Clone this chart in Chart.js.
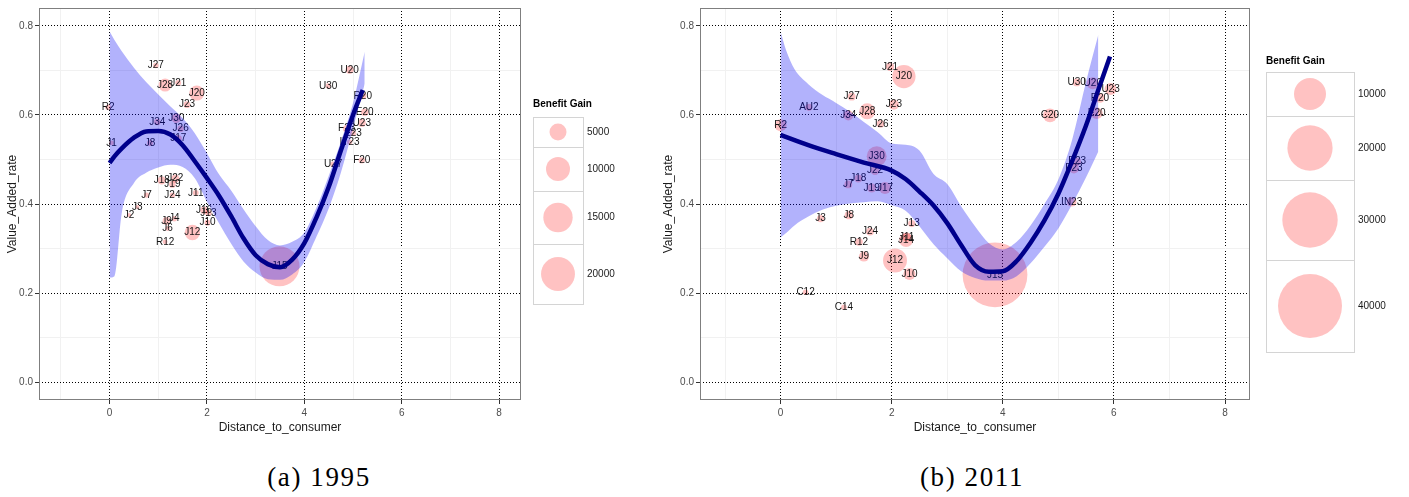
<!DOCTYPE html>
<html>
<head>
<meta charset="utf-8">
<script src="https://cdn.jsdelivr.net/npm/chart.js@4.4.1/dist/chart.umd.min.js"></script>
<style>
  body { margin: 0; background: #fff; width: 1409px; height: 497px; overflow: hidden; position: relative; }
  canvas { position: absolute; top: 0; }
  #chart-a { left: 0; }
  #chart-b { left: 655px; }
  .caption {
    position: absolute; top: 462px; transform: translateX(-50%);
    font-family: "Liberation Serif", serif; font-size: 27px; letter-spacing: 1.6px;
    white-space: nowrap; color: #000;
  }
</style>
</head>
<body>
<canvas id="chart-a" width="640" height="440"></canvas>
<canvas id="chart-b" width="754" height="440"></canvas>
<div class="caption" style="left:319px">(a) 1995</div>
<div class="caption" style="left:972px">(b) 2011</div>
<script>
// axis grid positions (labels only on the even / 0.2 steps)
const xGrid = [-1, 0, 1, 2, 3, 4, 5, 6, 7, 8];
const yGrid = [0, 0.1, 0.2, 0.3, 0.4, 0.5, 0.6, 0.7, 0.8];

// ---- 1995 ----
const names1995 = ['R2', 'J1', 'J2', 'J3', 'J7', 'J8', 'J27', 'J34', 'J18', 'J28', 'J21', 'J20', 'J23', 'J30',
  'J26', 'J17', 'J22', 'J19', 'J24', 'J11', 'J16', 'J13', 'J10', 'J4', 'J9', 'J6', 'J12', 'R12', 'J15',
  'U20', 'U30', 'R20', 'E20', 'U23', 'F23', 'E23', 'IT23', 'F20', 'U27'];
const dist1995 = [-0.03, 0.04, 0.40, 0.57, 0.76, 0.83, 0.95, 0.98, 1.07, 1.14, 1.41, 1.79, 1.59, 1.37,
  1.46, 1.41, 1.35, 1.29, 1.29, 1.77, 1.94, 2.03, 2.01, 1.33, 1.17, 1.19, 1.70, 1.14, 3.49,
  4.93, 4.49, 5.20, 5.24, 5.18, 4.87, 5.00, 4.93, 5.18, 4.59];
const rate1995 = [0.617, 0.537, 0.375, 0.393, 0.420, 0.537, 0.711, 0.584, 0.453, 0.667, 0.672, 0.649, 0.623, 0.592,
  0.569, 0.547, 0.457, 0.444, 0.420, 0.425, 0.386, 0.380, 0.358, 0.367, 0.362, 0.345, 0.336, 0.315, 0.260,
  0.701, 0.665, 0.643, 0.606, 0.582, 0.569, 0.559, 0.539, 0.498, 0.489];
const gain1995 = [600, 400, 300, 300, 500, 600, 500, 700, 1200, 2900, 600, 3900, 800, 1500,
  700, 900, 1200, 800, 500, 600, 1000, 700, 600, 500, 1100, 400, 4100, 400, 27800,
  1200, 500, 900, 1000, 1100, 1000, 600, 500, 700, 600];
const smoothX1995 = [0, 0.1, 0.25, 0.5, 0.75, 1.0, 1.25, 1.5, 1.75, 2.0, 2.25, 2.5, 2.75, 3.0, 3.25, 3.5, 3.75, 4.0, 4.25, 4.5, 4.75, 5.0, 5.2];
const smoothY1995 = [0.492, 0.507, 0.525, 0.549, 0.563, 0.564, 0.556, 0.532, 0.496, 0.458, 0.418, 0.372, 0.323, 0.285, 0.265, 0.258, 0.275, 0.312, 0.37, 0.438, 0.52, 0.600, 0.656];
const bandX1995 = [0, 0.1, 0.25, 0.5, 0.75, 1.0, 1.25, 1.5, 1.75, 2.0, 2.25, 2.5, 2.75, 3.0, 3.25, 3.5, 3.75, 4.0, 4.25, 4.5, 4.75, 5.0, 5.24];
const bandHi1995 = [0.787, 0.768, 0.743, 0.706, 0.674, 0.646, 0.619, 0.593, 0.559, 0.514, 0.466, 0.430, 0.388, 0.350, 0.319, 0.307, 0.315, 0.336, 0.392, 0.463, 0.540, 0.627, 0.742];
const bandLo1995 = [0.235, 0.238, 0.380, 0.447, 0.470, 0.482, 0.488, 0.483, 0.458, 0.405, 0.356, 0.310, 0.271, 0.246, 0.231, 0.230, 0.242, 0.270, 0.327, 0.390, 0.470, 0.570, 0.670];
const legendGain1995 = [5000, 10000, 15000, 20000];

// ---- 2011 ----
const names2011 = ['R2', 'AU2', 'J27', 'J34', 'J28', 'J21', 'J20', 'J23', 'J26', 'J30', 'J22', 'J18', 'J7',
  'J19', 'J17', 'J3', 'J8', 'J24', 'R12', 'J9', 'J13', 'J11', 'J14', 'J12', 'J10', 'C12', 'C14', 'J15',
  'C20', 'U30', 'U20', 'U23', 'R20', 'E20', 'E23', 'F23', 'IN23'];
const dist2011 = [0.00, 0.51, 1.28, 1.22, 1.56, 1.97, 2.22, 2.04, 1.80, 1.73, 1.70, 1.40, 1.22,
  1.64, 1.88, 0.72, 1.23, 1.61, 1.41, 1.50, 2.36, 2.27, 2.26, 2.06, 2.32, 0.45, 1.14, 3.86,
  4.85, 5.33, 5.62, 5.94, 5.75, 5.69, 5.34, 5.28, 5.24];
const rate2011 = [0.577, 0.617, 0.641, 0.599, 0.608, 0.708, 0.686, 0.623, 0.580, 0.507, 0.475, 0.457, 0.444,
  0.436, 0.436, 0.367, 0.375, 0.338, 0.315, 0.282, 0.356, 0.326, 0.319, 0.273, 0.243, 0.202, 0.168, 0.241,
  0.599, 0.673, 0.671, 0.658, 0.638, 0.604, 0.495, 0.480, 0.405];
const gain2011 = [1400, 500, 600, 1000, 2500, 700, 5300, 1000, 600, 3900, 800, 600, 600,
  800, 1400, 500, 700, 600, 600, 1000, 500, 800, 1900, 5600, 1400, 300, 300, 41000,
  1900, 600, 1400, 1400, 900, 1400, 600, 1000, 900];
const smoothX2011 = [0, 0.5, 1.0, 1.5, 2.0, 2.25, 2.5, 2.75, 3.0, 3.25, 3.5, 3.75, 4.0, 4.25, 4.5, 4.75, 5.0, 5.25, 5.5, 5.75, 5.93];
const smoothY2011 = [0.555, 0.532, 0.512, 0.493, 0.475, 0.456, 0.428, 0.397, 0.357, 0.308, 0.263, 0.248, 0.249, 0.272, 0.313, 0.363, 0.423, 0.497, 0.577, 0.667, 0.731];
const bandX2011 = [0, 0.1, 0.25, 0.5, 0.75, 1.0, 1.25, 1.5, 1.75, 2.0, 2.25, 2.5, 2.75, 3.0, 3.25, 3.5, 3.75, 4.0, 4.25, 4.5, 4.75, 5.0, 5.25, 5.5, 5.72];
const bandHi2011 = [0.787, 0.745, 0.703, 0.669, 0.645, 0.627, 0.607, 0.584, 0.561, 0.536, 0.533, 0.520, 0.468, 0.445, 0.395, 0.350, 0.312, 0.298, 0.315, 0.352, 0.400, 0.455, 0.545, 0.675, 0.780];
const bandLo2011 = [0.325, 0.335, 0.352, 0.372, 0.387, 0.396, 0.401, 0.404, 0.406, 0.397, 0.385, 0.350, 0.310, 0.278, 0.249, 0.234, 0.228, 0.228, 0.238, 0.267, 0.304, 0.345, 0.400, 0.460, 0.518];
const legendGain2011 = [10000, 20000, 30000, 40000];

const FONT = '"Liberation Sans", Arial, sans-serif';
const BUBBLE = 'rgba(255, 0, 0, 0.24)';
const BAND = 'rgba(0, 0, 245, 0.3)';

Chart.defaults.font.family = FONT;

const isMajorX = v => v % 2 === 0;
const isMajorY = v => Math.abs(Math.round(v * 5) - v * 5) < 1e-6;

// point labels sit right above the bubbles, under the smoother; frame + size legend on top
const panelDecor = {
  id: 'panelDecor',
  afterDatasetDraw(chart, args, opts) {
    if (args.meta.type !== 'bubble') return;
    const ctx = chart.ctx;
    ctx.save();
    ctx.font = '10px ' + FONT;
    ctx.fillStyle = '#141414';
    ctx.textAlign = 'center';
    ctx.textBaseline = 'middle';
    args.meta.data.forEach((pt, i) => ctx.fillText(opts.names[i], pt.x, pt.y));
    ctx.restore();
  },
  afterDraw(chart, args, opts) {
    const ctx = chart.ctx;
    const a = chart.chartArea;
    ctx.save();
    ctx.strokeStyle = '#7f7f7f';
    ctx.lineWidth = 1;
    ctx.strokeRect(Math.round(a.left) + 0.5, Math.round(a.top) + 0.5,
      Math.round(a.right - a.left) - 1, Math.round(a.bottom - a.top) - 1);

    const L = opts.legend;
    ctx.fillStyle = '#000';
    ctx.font = 'bold 10px ' + FONT;
    ctx.textBaseline = 'middle';
    ctx.textAlign = 'left';
    ctx.fillText('Benefit Gain', L.x, L.titleY);
    ctx.font = '10px ' + FONT;
    opts.breaks.forEach((v, i) => {
      const top = L.rows[i];
      const bottom = L.rows[i + 1];
      const mid = (top + bottom) / 2;
      ctx.strokeStyle = '#d4d4d4';
      ctx.strokeRect(L.x + 0.5, top + 0.5, L.w, bottom - top);
      ctx.fillStyle = BUBBLE;
      ctx.beginPath();
      ctx.arc(L.x + L.w / 2, mid, opts.k * Math.sqrt(v), 0, Math.PI * 2);
      ctx.fill();
      ctx.fillStyle = '#1a1a1a';
      ctx.fillText(String(v), L.x + L.w + 4, mid);
    });
    ctx.restore();
  }
};

function buildPanel(canvasId, p) {
  const bubbles = p.dist.map((x, i) => ({ x, y: p.rate[i], r: p.k * Math.sqrt(p.gain[i]) }));
  const smooth = p.smoothX.map((x, i) => ({ x, y: p.smoothY[i] }));
  const hi = p.bandX.map((x, i) => ({ x, y: p.bandHi[i] }));
  const lo = p.bandX.map((x, i) => ({ x, y: p.bandLo[i] }));

  const lineBase = { type: 'line', pointRadius: 0, cubicInterpolationMode: 'monotone' };

  return new Chart(document.getElementById(canvasId), {
    type: 'bubble',
    data: {
      datasets: [
        { ...lineBase, data: smooth, borderColor: '#00008b', borderWidth: 4.5, fill: false },
        { ...lineBase, data: hi, borderWidth: 0, borderColor: 'rgba(0,0,0,0)', backgroundColor: BAND, fill: '+1' },
        { ...lineBase, data: lo, borderWidth: 0, borderColor: 'rgba(0,0,0,0)', fill: false },
        { data: bubbles, backgroundColor: BUBBLE, borderWidth: 0 }
      ]
    },
    options: {
      responsive: false,
      animation: false,
      events: [],
      layout: { autoPadding: false, padding: { top: 7, right: p.padRight, bottom: 0, left: 0 } },
      plugins: {
        legend: { display: false },
        tooltip: { enabled: false },
        panelDecor: { names: p.names, breaks: p.breaks, k: p.k, legend: p.legend }
      },
      scales: {
        x: {
          type: 'linear', min: -1.45, max: 8.45,
          afterBuildTicks: s => { s.ticks = xGrid.map(v => ({ value: v })); },
          afterFit: s => { s.height = 40; },
          grid: {
            color: c => (c.tick && isMajorX(c.tick.value)) ? '#000' : '#f1f1f1',
            tickColor: c => (c.tick && isMajorX(c.tick.value)) ? '#333' : 'rgba(0,0,0,0)',
            tickLength: 4, lineWidth: 1
          },
          border: { display: false, dash: c => (c.tick && isMajorX(c.tick.value)) ? [1, 2] : [] },
          ticks: {
            autoSkip: false, maxRotation: 0, padding: 3, color: '#4d4d4d', font: { size: 10 },
            callback: v => isMajorX(v) ? String(v) : ''
          },
          title: { display: true, text: 'Distance_to_consumer', color: '#1a1a1a', font: { size: 12 }, padding: 5 }
        },
        y: {
          type: 'linear', min: -0.04, max: 0.84,
          afterBuildTicks: s => { s.ticks = yGrid.map(v => ({ value: v })); },
          afterFit: s => { s.width = p.yWidth; },
          grid: {
            color: c => (c.tick && isMajorY(c.tick.value)) ? '#000' : '#f1f1f1',
            tickColor: c => (c.tick && isMajorY(c.tick.value)) ? '#333' : 'rgba(0,0,0,0)',
            tickLength: 4, lineWidth: 1
          },
          border: { display: false, dash: c => (c.tick && isMajorY(c.tick.value)) ? [1, 2] : [] },
          ticks: {
            autoSkip: false, padding: 2, color: '#4d4d4d', font: { size: 10 },
            callback: v => isMajorY(v) ? v.toFixed(1) : ''
          },
          title: { display: true, text: 'Value_Added_rate', color: '#1a1a1a', font: { size: 12 }, padding: p.yTitlePad }
        }
      }
    },
    plugins: [panelDecor]
  });
}

buildPanel('chart-a', {
  names: names1995, dist: dist1995, rate: rate1995, gain: gain1995,
  smoothX: smoothX1995, smoothY: smoothY1995,
  bandX: bandX1995, bandHi: bandHi1995, bandLo: bandLo1995,
  breaks: legendGain1995, k: 0.12,
  yWidth: 39, yTitlePad: 5, padRight: 119,
  legend: { x: 533, w: 50, titleY: 104, rows: [117, 147, 191, 244, 304] }
});

buildPanel('chart-b', {
  names: names2011, dist: dist2011, rate: rate2011, gain: gain2011,
  smoothX: smoothX2011, smoothY: smoothY2011,
  bandX: bandX2011, bandHi: bandHi2011, bandLo: bandLo2011,
  breaks: legendGain2011, k: 0.16,
  yWidth: 45, yTitlePad: 6, padRight: 159,
  legend: { x: 611, w: 88, titleY: 61, rows: [72, 116, 180, 260, 352] }
});
</script>
</body>
</html>
